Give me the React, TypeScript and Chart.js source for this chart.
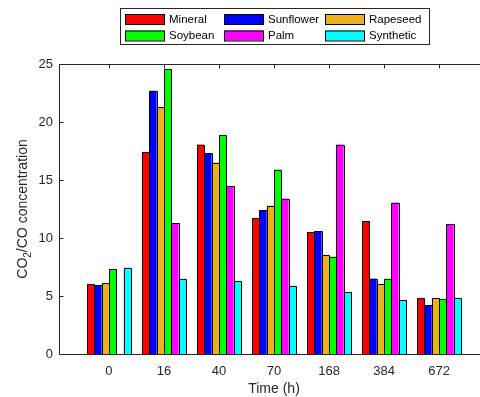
import React, { useEffect, useRef } from "react";
import { Chart, registerables } from "chart.js";

Chart.register(...registerables);

const categories = ["0", "16", "40", "70", "168", "384", "672"];
const seriesNames = ["Mineral", "Sunflower", "Rapeseed", "Soybean", "Palm", "Synthetic"];
const seriesColors = ["#FF0000", "#0000FF", "#EDB120", "#00FF00", "#FF00FF", "#00FFFF"];
const mineral = [6.0, 17.4, 18.05, 11.7, 10.5, 11.45, 4.8];
const sunflower = [5.95, 22.7, 17.3, 12.4, 10.6, 6.5, 4.2];
const rapeseed = [6.1, 21.3, 16.5, 12.8, 8.55, 6.05, 4.8];
const soybean = [7.3, 24.6, 18.85, 15.9, 8.4, 6.5, 4.75];
const palm = [null, 11.3, 14.45, 13.4, 18.05, 13.05, 11.2];
const synthetic = [7.45, 6.5, 6.3, 5.9, 5.35, 4.65, 4.85];
const yTicks = [0, 5, 10, 15, 20, 25];
const yLabel = { main: "CO", sub: "2", rest: "/CO concentration" };
const xLabel = "Time (h)";

const seriesValues = [mineral, sunflower, rapeseed, soybean, palm, synthetic];

const FONT = "'Liberation Sans', Arial, sans-serif";
const AXIS_COLOR = "#262626";

const outlinePlugin = {
  id: "barOutline",
  afterDatasetsDraw(chart: any) {
    const { ctx } = chart;
    ctx.save();
    ctx.strokeStyle = "#000000";
    ctx.lineWidth = 1;
    chart.data.datasets.forEach((_: any, di: number) => {
      const meta = chart.getDatasetMeta(di);
      meta.data.forEach((el: any, i: number) => {
        const v = chart.data.datasets[di].data[i];
        if (!v || v.y == null || isNaN(el.y)) return;
        const l = Math.round(el.x - el.width / 2) + 0.5;
        const r = Math.round(el.x + el.width / 2) + 0.5;
        const t = Math.round(el.y) + 0.5;
        const b = Math.round(el.base) + 0.5;
        ctx.beginPath();
        ctx.moveTo(l, b);
        ctx.lineTo(l, t);
        ctx.lineTo(r, t);
        ctx.lineTo(r, b);
        ctx.stroke();
      });
    });
    ctx.restore();
  },
};

const boxPlugin = {
  id: "matlabBox",
  afterDatasetsDraw(chart: any) {
    const { ctx, chartArea, scales } = chart;
    const { left, right, top, bottom } = chartArea;
    const x = scales.x;
    const y = scales.y;
    ctx.save();
    ctx.strokeStyle = AXIS_COLOR;
    ctx.lineWidth = 1;
    ctx.beginPath();
    const l = Math.round(left) - 0.5;
    const r = Math.round(right) - 0.5;
    const t = Math.round(top) + 0.5;
    const b = Math.round(bottom) + 0.5;
    ctx.moveTo(l, t);
    ctx.lineTo(r, t);
    ctx.lineTo(r, b);
    ctx.lineTo(l, b);
    ctx.closePath();
    const tl = 4;
    yTicks.forEach((v) => {
      const py = Math.round(y.getPixelForValue(v)) + 0.5;
      ctx.moveTo(l, py);
      ctx.lineTo(l + tl, py);
      ctx.moveTo(r, py);
      ctx.lineTo(r - tl, py);
    });
    categories.forEach((_, i) => {
      const px = Math.round(x.getPixelForValue(i)) + 0.5;
      ctx.moveTo(px, b);
      ctx.lineTo(px, b - tl);
      ctx.moveTo(px, t);
      ctx.lineTo(px, t + tl);
    });
    ctx.stroke();

    ctx.fillStyle = AXIS_COLOR;
    ctx.font = `14px ${FONT}`;
    ctx.textAlign = "center";
    ctx.textBaseline = "middle";
    const cx = (left + right) / 2;
    ctx.fillText(xLabel, cx, 389);

    const cy = (top + bottom) / 2;
    ctx.translate(23, cy);
    ctx.rotate(-Math.PI / 2);
    ctx.font = `14px ${FONT}`;
    const w1 = ctx.measureText(yLabel.main).width;
    const w3 = ctx.measureText(yLabel.rest).width;
    ctx.font = `10px ${FONT}`;
    const w2 = ctx.measureText(yLabel.sub).width;
    const total = w1 + w2 + w3;
    let sx = -total / 2;
    ctx.textAlign = "left";
    ctx.font = `14px ${FONT}`;
    ctx.fillText(yLabel.main, sx, 0);
    sx += w1;
    ctx.font = `10px ${FONT}`;
    ctx.fillText(yLabel.sub, sx, 5);
    sx += w2;
    ctx.font = `14px ${FONT}`;
    ctx.fillText(yLabel.rest, sx, 0);
    ctx.restore();
  },
};

const legendPlugin = {
  id: "matlabLegend",
  afterDraw(chart: any) {
    const { ctx } = chart;
    ctx.save();
    const bx = 120, by = 8, bw = 309, bh = 36;
    ctx.fillStyle = "#FFFFFF";
    ctx.fillRect(bx, by, bw, bh);
    ctx.strokeStyle = AXIS_COLOR;
    ctx.lineWidth = 1;
    ctx.strokeRect(bx + 0.5, by + 0.5, bw, bh);
    const colX = [125, 224, 325];
    const rowY = [19, 35.5];
    ctx.font = `11.5px ${FONT}`;
    ctx.textAlign = "left";
    ctx.textBaseline = "middle";
    chart.data.datasets.forEach((ds: any, i: number) => {
      const col = i % 3;
      const row = Math.floor(i / 3);
      const sx = colX[col];
      const sy = rowY[row];
      ctx.fillStyle = ds.backgroundColor;
      ctx.fillRect(sx, sy - 5, 39, 10);
      ctx.strokeStyle = "#000";
      ctx.strokeRect(sx + 0.5, sy - 5 + 0.5, 39, 10);
      ctx.fillStyle = "#000";
      ctx.fillText(ds.label, sx + 44, sy + 0.5);
    });
    ctx.restore();
  },
};

export default function App() {
  const ref = useRef<HTMLCanvasElement>(null);
  useEffect(() => {
    if (!ref.current) return;
    const chart = new Chart(ref.current, {
      type: "bar",
      data: {
        datasets: seriesNames.map((name, si) => ({
          label: name,
          data: seriesValues[si].map((v, i) => ({ x: i, y: v })) as any,
          backgroundColor: seriesColors[si],
          borderWidth: 0,
          inflateAmount: 0,
          categoryPercentage: 0.8,
          barPercentage: 1.0,
        })),
      },
      options: {
        responsive: false,
        animation: false,
        devicePixelRatio: 1,
        layout: { padding: { left: 0, top: 64, right: 8, bottom: 0 } },
        plugins: { legend: { display: false }, tooltip: { enabled: false } },
        scales: {
          x: {
            type: "linear",
            offset: false,
            min: -0.89,
            max: 6.89,
            grid: { display: false, drawTicks: false, offset: false },
            border: { display: false },
            afterBuildTicks: (s: any) => {
              s.ticks = categories.map((_, i) => ({ value: i }));
            },
            afterFit: (s: any) => {
              s.height = 43;
            },
            ticks: {
              autoSkip: false,
              maxRotation: 0,
              padding: 10,
              color: AXIS_COLOR,
              font: { family: FONT, size: 13 },
              callback: (v: any) => categories[Math.round(Number(v))] ?? "",
            },
          },
          y: {
            type: "linear",
            min: 0,
            max: 25,
            grid: { display: false, drawTicks: false },
            border: { display: false },
            afterBuildTicks: (s: any) => {
              s.ticks = yTicks.map((v) => ({ value: v }));
            },
            afterFit: (s: any) => {
              s.width = 60;
            },
            ticks: {
              padding: 7,
              color: AXIS_COLOR,
              font: { family: FONT, size: 13 },
            },
          },
        },
      },
      plugins: [outlinePlugin, boxPlugin, legendPlugin],
    });
    return () => chart.destroy();
  }, []);
  return (
    <div style={{ position: "fixed", left: 0, top: 0, width: 480, height: 397, overflow: "hidden", background: "#fff" }}>
      <canvas ref={ref} width={496} height={397} style={{ width: 496, height: 397, display: "block" }} />
    </div>
  );
}
